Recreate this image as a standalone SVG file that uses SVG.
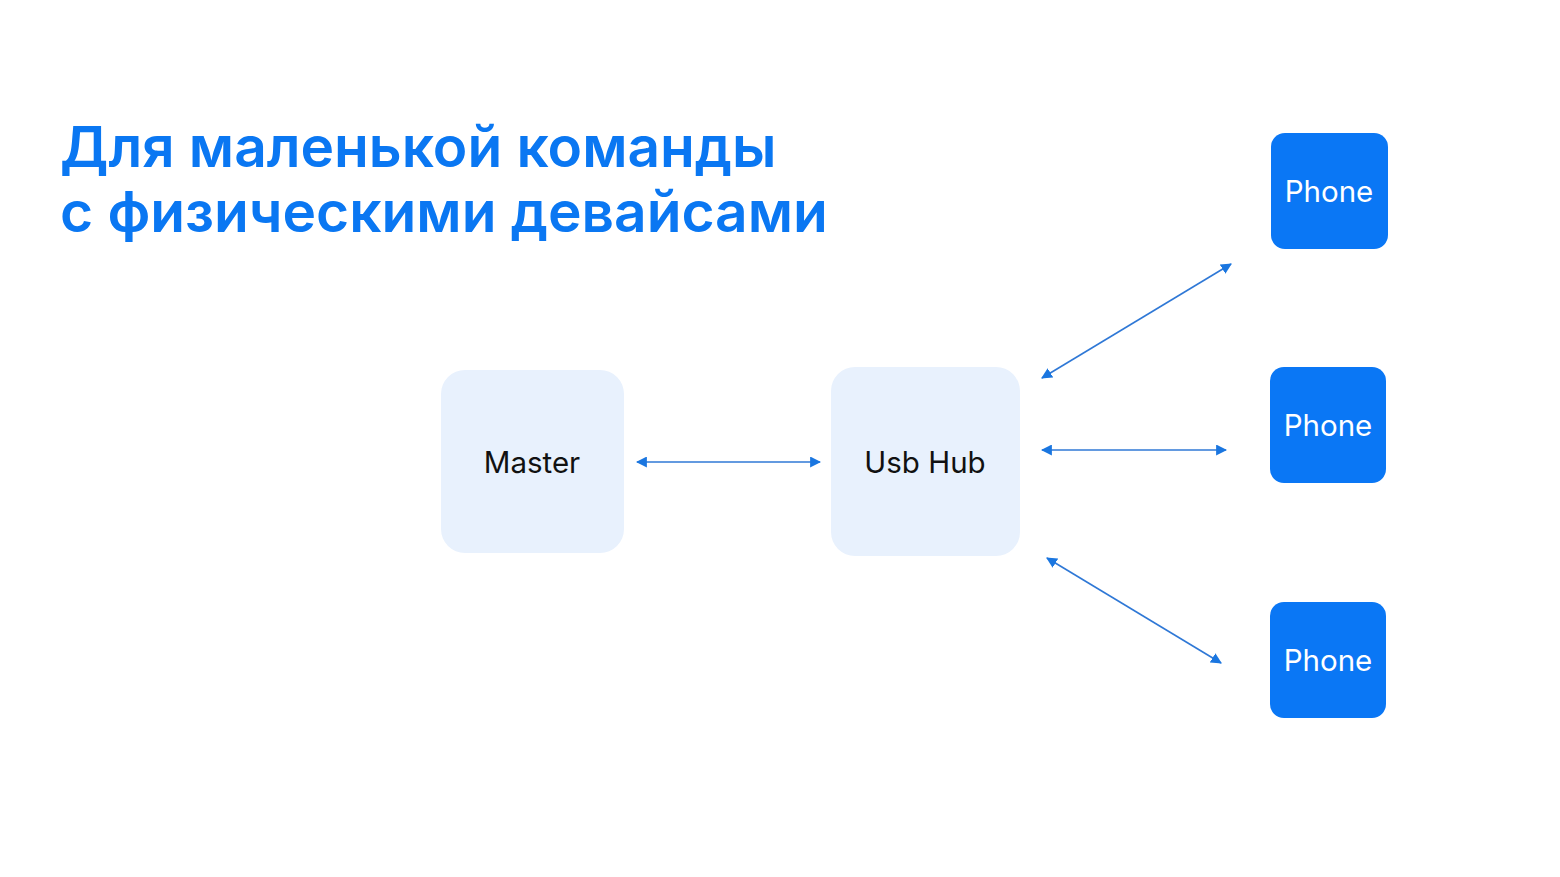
<svg xmlns="http://www.w3.org/2000/svg" width="1560" height="877" viewBox="0 0 1560 877">
<style>
.title{font-family:Inter,"Noto Sans",sans-serif;font-weight:600;font-size:56.8px;fill:#0a77f2}
.soft{fill:#e8f1fd}
.phone{fill:#0a77f5}
.lbl{font-family:Inter,"Noto Sans",sans-serif;font-size:29.5px;fill:#111;text-anchor:middle;dominant-baseline:central}
.lblw{font-family:Inter,"Noto Sans",sans-serif;font-size:29.5px;fill:#fff;text-anchor:middle;dominant-baseline:central}
.conn{stroke:#2f78d6;stroke-width:1.6;fill:none;marker-start:url(#ah);marker-end:url(#ah)}
</style>
<defs>
<marker id="ah" viewBox="0 0 10 10" refX="9" refY="5" markerWidth="11" markerHeight="11" markerUnits="userSpaceOnUse" orient="auto-start-reverse">
<path d="M0,0 L10,5 L0,10 z" fill="#1a76e0"/>
</marker>
</defs>
<rect width="1560" height="877" fill="#fff"/>
<g id="title">
<text class="title" x="60" y="167">Для маленькой команды</text>
<text class="title" x="60" y="232">с физическими девайсами</text>
</g>
<g id="master">
<rect class="soft" x="441" y="370" width="183" height="183" rx="24"/>
<text class="lbl" x="532" y="462">Master</text>
</g>
<g id="hub">
<rect class="soft" x="831" y="367" width="189" height="189" rx="24"/>
<text class="lbl" x="925" y="462">Usb Hub</text>
</g>
<g id="phone1">
<rect class="phone" x="1271" y="133" width="117" height="116" rx="14"/>
<text class="lblw" x="1329" y="191">Phone</text>
</g>
<g id="phone2">
<rect class="phone" x="1270" y="367" width="116" height="116" rx="14"/>
<text class="lblw" x="1328" y="425">Phone</text>
</g>
<g id="phone3">
<rect class="phone" x="1270" y="602" width="116" height="116" rx="14"/>
<text class="lblw" x="1328" y="660">Phone</text>
</g>
<g id="connectors">
<line class="conn" x1="637" y1="462" x2="820" y2="462"/>
<line class="conn" x1="1042" y1="378" x2="1231" y2="264"/>
<line class="conn" x1="1042" y1="450" x2="1226" y2="450"/>
<line class="conn" x1="1047" y1="558" x2="1221" y2="663"/>
</g>
</svg>
